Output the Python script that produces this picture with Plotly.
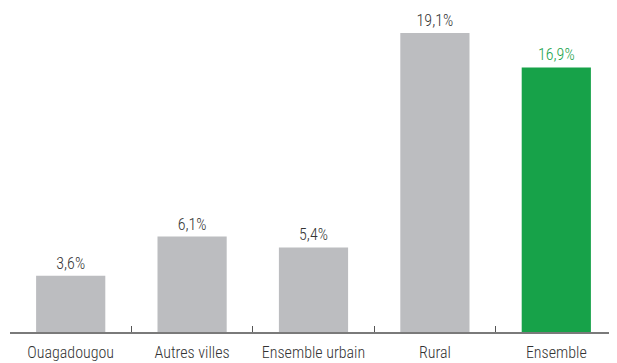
import plotly.graph_objects as go

categories = ['Ouagadougou', 'Autres villes', 'Ensemble urbain', 'Rural', 'Ensemble']
values = [3.6, 6.1, 5.4, 19.1, 16.9]
labels = ['3,6%', '6,1%', '5,4%', '19,1%', '16,9%']

GRAY = '#bcbdc0'
GREEN = '#17a249'
colors = [GRAY, GRAY, GRAY, GRAY, GREEN]
textcolors = ['#333333'] * 4 + [GREEN]

FONT = 'Roboto Condensed, Liberation Sans Narrow, DejaVu Sans Condensed, Roboto'

fig = go.Figure()
fig.add_trace(go.Bar(
    x=categories, y=values,
    marker=dict(color=colors, line=dict(width=0)),
    text=labels, textposition='outside',
    textfont=dict(color=textcolors, size=16, family=FONT, weight=300),
    cliponaxis=False,
    width=0.57,
))

# the page body has an 8px margin, so the figure is sized to fill the rest
fig.update_layout(
    width=609, height=355,
    margin=dict(l=2, r=0, t=0, b=31),
    plot_bgcolor='white', paper_bgcolor='white',
    showlegend=False,
    font=dict(family=FONT, size=16, color='#333333', weight=300),
    xaxis=dict(
        showline=True, linecolor='#7a7a7a', linewidth=1.5,
        ticks='inside', tickson='boundaries', ticklen=6, tickcolor='#555555',
        tickwidth=1, tickfont=dict(size=16, color='#333333', family=FONT, weight=300),
        ticklabelstandoff=5,
        range=[-0.5, 4.5], fixedrange=True, automargin=False,
    ),
    yaxis=dict(visible=False, range=[0, 20.7], showgrid=False, zeroline=False,
               automargin=False),
)

fig.write_html("out.html")
